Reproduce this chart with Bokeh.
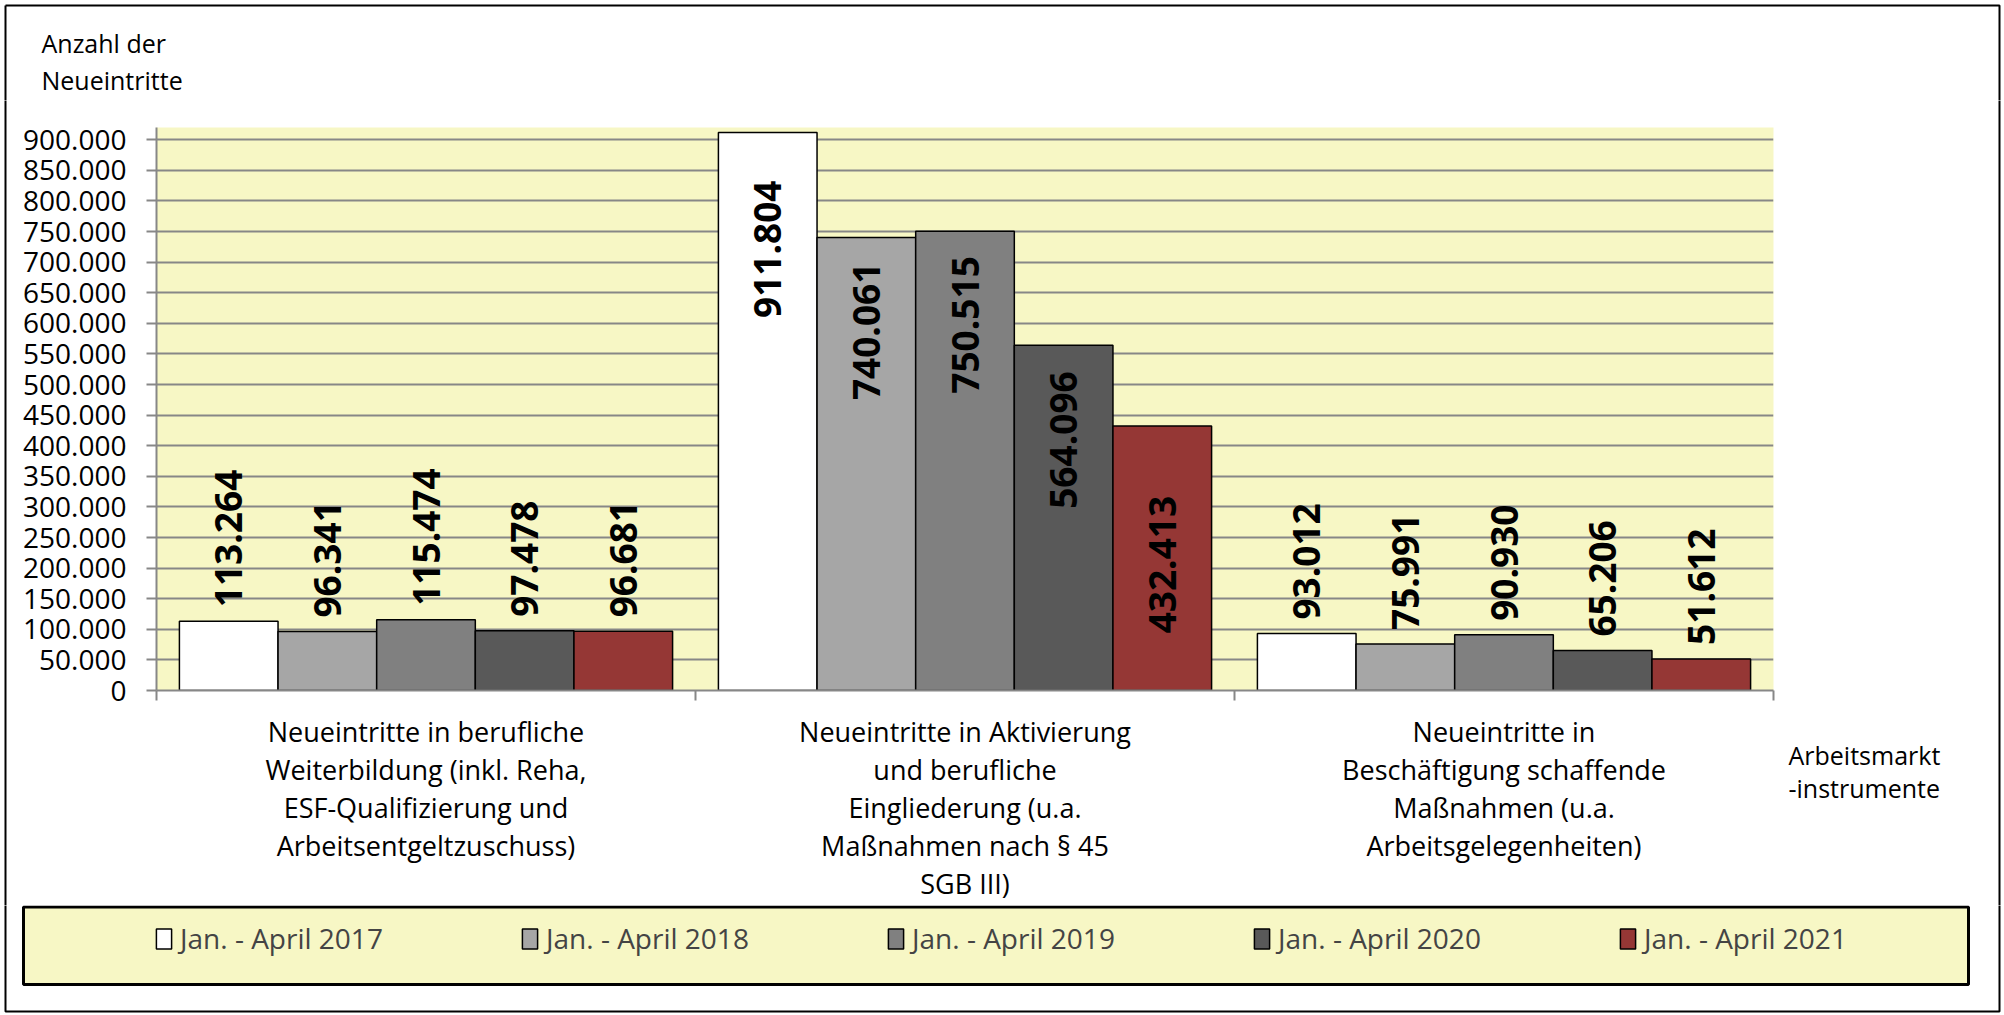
from math import pi

from bokeh.plotting import figure
from bokeh.layouts import column, row
from bokeh.models import (ColumnDataSource, Range1d, LinearAxis,
                          FixedTicker, Legend, LegendItem, Label)
from bokeh.transform import dodge
from bokeh.core.properties import value, field
from bokeh.embed import file_html
from bokeh.resources import INLINE

# ---------------- data ----------------
categories = [
    "Neueintritte in berufliche\nWeiterbildung (inkl. Reha,\nESF-Qualifizierung und\nArbeitsentgeltzuschuss)",
    "Neueintritte in Aktivierung\nund berufliche\nEingliederung (u.a.\nMaßnahmen nach § 45\nSGB III)",
    "Neueintritte in\nBeschäftigung schaffende\nMaßnahmen (u.a.\nArbeitsgelegenheiten)",
]
series_names = ["Jan. - April 2017", "Jan. - April 2018", "Jan. - April 2019",
                "Jan. - April 2020", "Jan. - April 2021"]
values_2017 = [113264, 911804, 93012]
values_2018 = [96341, 740061, 75991]
values_2019 = [115474, 750515, 90930]
values_2020 = [97478, 564096, 65206]
values_2021 = [96681, 432413, 51612]
y_ticks = [0, 50000, 100000, 150000, 200000, 250000, 300000, 350000, 400000, 450000,
           500000, 550000, 600000, 650000, 700000, 750000, 800000, 850000, 900000]
y_title = "Anzahl der\nNeueintritte"
x_title = "Arbeitsmarkt\n-instrumente"

all_values = [values_2017, values_2018, values_2019, values_2020, values_2021]

# ---------------- style / page geometry (pixels) ----------------
YELLOW = "#F7F7C5"
GREY = "#878787"
colors = ["#FFFFFF", "#A6A6A6", "#808080", "#595959", "#953735"]
bar_width = 0.183
offsets = [-2 * bar_width, -bar_width, 0.0, bar_width, 2 * bar_width]
placement = ["outside", "inside", "outside"]
outside_gap = 14
inside_gap = [48, 25, 25, 26, 70]
FONT = "Open Sans"

W, H = 2004, 1015
TOP_H = 100            # strip with the y title
MAIN_Y1 = 905          # bottom of the chart strip
LEFT_W = 12            # thin strip left of the chart
MAIN_X1 = 1780         # right edge of the chart figure
MAIN_W = MAIN_X1 - LEFT_W
MAIN_H = MAIN_Y1 - TOP_H
FRAME_L, FRAME_R, FRAME_T, FRAME_B = 156, 1773, 127, 690
BORDER = dict(xs=[[5, 1999, 1999, 5, 5]], ys=[[5, 5, 1011, 1011, 5]])


def de(v):
    return f"{v:,}".replace(",", ".")


def strip(x0, x1, y0, y1):
    """A plain figure whose data coordinates are page pixels (y downwards)."""
    f = figure(width=x1 - x0, height=y1 - y0, x_range=Range1d(x0, x1), y_range=Range1d(y1, y0),
               output_backend="svg", toolbar_location=None,
               x_axis_location=None, y_axis_location=None, min_border=0,
               outline_line_color=None, background_fill_color="white",
               border_fill_color="white")
    f.grid.visible = False
    f.multi_line(xs=BORDER["xs"], ys=BORDER["ys"], line_color="black", line_width=2)
    return f


n_cat = len(categories)
centers = [i + 0.5 for i in range(n_cat)]
bounds = list(range(n_cat + 1))

# ---------------- main chart ----------------
p = figure(width=MAIN_W, height=MAIN_H,
           x_range=Range1d(0, n_cat),
           y_range=Range1d(0, 920000),
           output_backend="svg", toolbar_location=None,
           x_axis_location=None,
           min_border_left=FRAME_L - LEFT_W, min_border_right=MAIN_X1 - FRAME_R,
           min_border_top=FRAME_T - TOP_H, min_border_bottom=MAIN_Y1 - FRAME_B,
           background_fill_color=YELLOW, border_fill_color="white",
           outline_line_color=None)

yax = p.yaxis[0]
yax.ticker = FixedTicker(ticks=y_ticks)
yax.major_label_overrides = {t: de(t) for t in y_ticks}
yax.major_label_text_font = FONT
yax.major_label_text_font_size = "28px"
yax.major_label_text_color = "black"
yax.major_label_standoff = 20
yax.major_tick_out = 10
yax.major_tick_in = 0
yax.minor_tick_line_color = None
yax.axis_line_color = GREY
yax.axis_line_width = 2
yax.major_tick_line_color = GREY
yax.major_tick_line_width = 2

p.xgrid.visible = False
p.ygrid.ticker = FixedTicker(ticks=y_ticks)
p.ygrid.grid_line_color = GREY
p.ygrid.grid_line_width = 2

# category axis: labels at the centres, short ticks at the category boundaries
cat_axis = LinearAxis(ticker=FixedTicker(ticks=centers, minor_ticks=bounds),
                      major_label_overrides={c: name for c, name in zip(centers, categories)},
                      axis_line_color=GREY, axis_line_width=2,
                      major_tick_line_color=None, major_tick_out=0, major_tick_in=0,
                      minor_tick_line_color=GREY, minor_tick_line_width=2,
                      minor_tick_out=10, minor_tick_in=0,
                      major_label_text_font=FONT,
                      major_label_text_font_size="27px",
                      major_label_text_line_height=1.03,
                      major_label_text_color="black",
                      major_label_standoff=12)
p.add_layout(cat_axis, "below")

sources = []
for i, vals in enumerate(all_values):
    aligns = ["left" if pl == "outside" else "right" for pl in placement]
    yoffs = [-outside_gap if pl == "outside" else inside_gap[i] for pl in placement]
    src = ColumnDataSource(dict(xc=centers, top=vals,
                                label=[de(v) for v in vals],
                                align=aligns, yoff=yoffs))
    sources.append(src)
    p.vbar(x=dodge("xc", offsets[i]), top="top", width=bar_width,
           source=src, fill_color=colors[i], line_color="black", line_width=1.5)
    p.text(x=dodge("xc", offsets[i]), y="top", text="label", source=src,
           angle=pi / 2, text_align=field("align"), text_baseline="middle",
           y_offset=field("yoff"), text_font=value(FONT), text_font_style="bold",
           text_font_size="37px", text_color="black")

# ---------------- surrounding strips ----------------
top = strip(0, W, 0, TOP_H)
top.add_layout(Label(x=41, y=61, text=y_title, text_font=FONT, text_font_size="25px",
                     text_line_height=1.1, text_baseline="middle", text_align="left",
                     text_color="black"))

left = strip(0, LEFT_W, TOP_H, MAIN_Y1)

right = strip(MAIN_X1, W, TOP_H, MAIN_Y1)
right.add_layout(Label(x=1788, y=771, text=x_title, text_font=FONT, text_font_size="25px",
                       text_line_height=0.98, text_baseline="middle", text_align="left",
                       text_color="black"))

leg = strip(0, W, MAIN_Y1, H)
leg.quad(left=23, right=1968, top=906.5, bottom=984, fill_color=YELLOW,
         line_color="black", line_width=3)
leg_renderers = [leg.vbar(x=dodge("xc", offsets[i]), top="top", width=bar_width,
                          source=sources[i], fill_color=colors[i], line_color="black",
                          line_width=1.5, visible=False) for i in range(len(all_values))]
legend = Legend(items=[LegendItem(label=n, renderers=[r]) for n, r in zip(series_names, leg_renderers)],
                orientation="horizontal", location=(154, 58), padding=0, margin=0,
                spacing=130, label_width=210, label_height=30,
                glyph_width=19, glyph_height=25, label_standoff=7,
                label_text_font=FONT, label_text_font_size="28px",
                border_line_color=None, background_fill_alpha=0,
                inactive_fill_alpha=0)
leg.add_layout(legend, "center")

layout = column(top,
                row(column(left), p, column(right), spacing=0),
                row(leg),
                spacing=0)

open("out.html", "w").write(file_html(layout, INLINE))
